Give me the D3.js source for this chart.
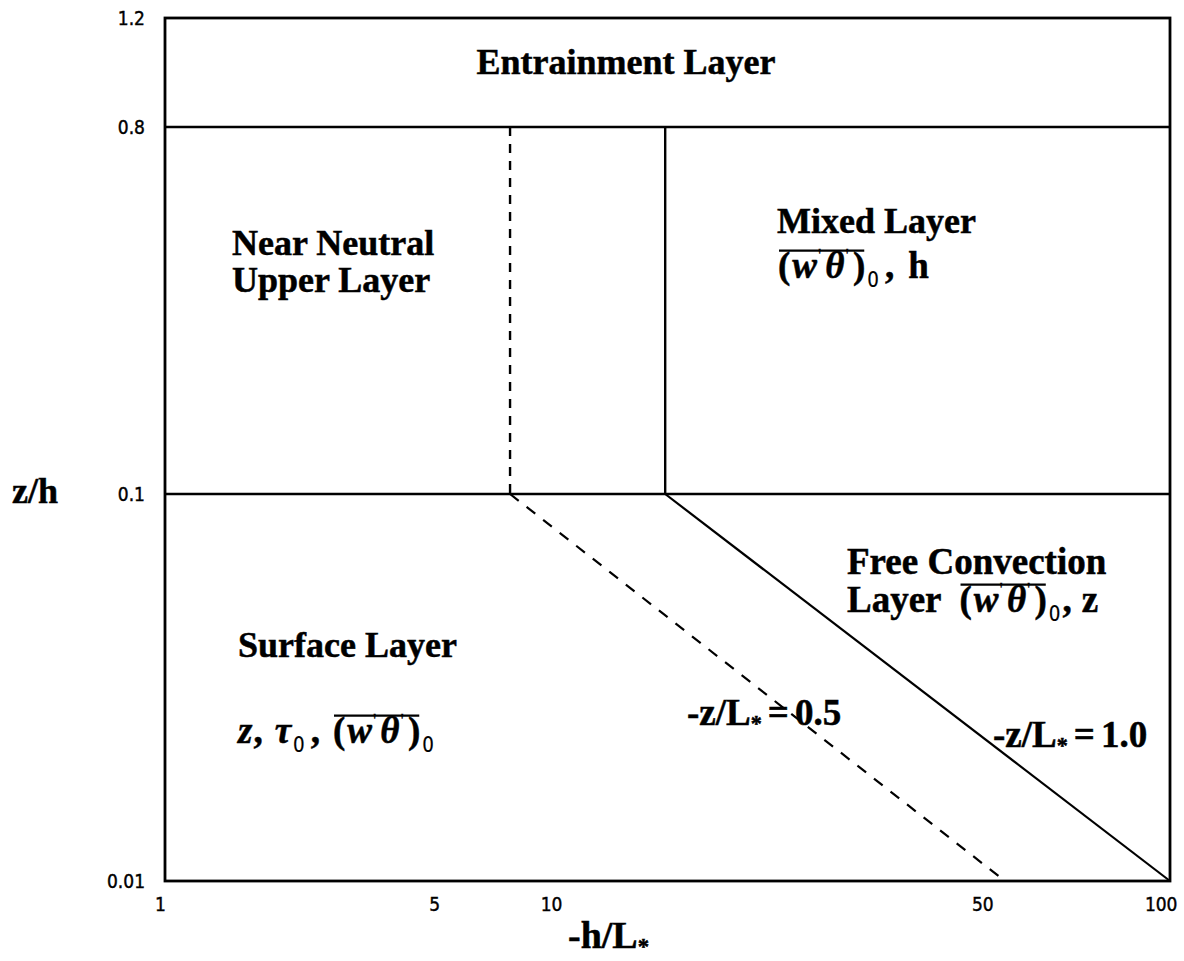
<!DOCTYPE html>
<html>
<head>
<meta charset="utf-8">
<script src="https://cdn.jsdelivr.net/npm/d3@7"></script>
<style>
  body { margin: 0; background: #fff; }
  .lbl { font-family: "Liberation Serif", "Times New Roman", serif; font-weight: bold; fill: #000;
         stroke: #000; stroke-width: 0.5px; }
  .tick text { font-family: "DejaVu Sans Condensed", "Liberation Sans Narrow", sans-serif; font-size: 19px;
               fill: #000; stroke: #000; stroke-width: 0.4px; }
</style>
</head>
<body>
<svg id="chart" width="1184" height="961"></svg>
<script>
// Regimes of the convective boundary layer on the (-h/L*, z/h) plane

// axis ticks
const xTicks = [1, 5, 10, 50, 100];
const xTickLabels = ["1", "5", "10", "50", "100"];
const yTicks = [0.01, 0.1, 0.8, 1.2];
const yTickLabels = ["0.01", "0.1", "0.8", "1.2"];

// horizontal layer boundaries (z/h)
const layerBounds = [0.1, 0.8];
// vertical boundaries between z/h = 0.1 and 0.8 (-h/L*)
const neutralEdge = 7.75;   // dashed
const mixedEdge = 15.2;     // solid
// -z/L* isolines, as [-h/L*, z/h] end points
const halfIsoline = [[7.75, 0.1], [54, 0.01]];
const unitIsoline = [[15.2, 0.1], [100, 0.01]];

const svg = d3.select("#chart");
const plotLeft = 165, plotRight = 1170, plotTop = 18, plotBottom = 881;

// piecewise log scales: each decade has its own span on the page
const x = d3.scaleLog().domain([1, 10, 100]).range([plotLeft, 553, plotRight]);
const y = d3.scaleLog().domain([0.01, 0.1, 0.8, 1.2]).range([plotBottom, 494, 127, plotTop]);

// tick labels
const xAxis = d3.axisBottom(x).tickValues(xTicks).tickSize(0).tickPadding(17)
  .tickFormat((d, i) => xTickLabels[i]);
svg.append("g").attr("transform", `translate(0,${plotBottom})`).call(xAxis)
  .call(g => g.select(".domain").remove())
  .call(g => g.selectAll(".tick text")
    .attr("dx", (d, i) => i === 0 ? -5 : (i === xTicks.length - 1 ? 7 : -2))
    .attr("text-anchor", (d, i) => i === xTicks.length - 1 ? "end" : "middle"));

const yAxis = d3.axisLeft(y).tickValues(yTicks).tickSize(0).tickPadding(20)
  .tickFormat((d, i) => yTickLabels[i]);
svg.append("g").attr("transform", `translate(${plotLeft},0)`).call(yAxis)
  .call(g => g.select(".domain").remove());

// frame
svg.append("rect")
  .attr("x", x(1)).attr("y", y(1.2))
  .attr("width", x(100) - x(1)).attr("height", y(0.01) - y(1.2))
  .attr("fill", "none").attr("stroke", "#000").attr("stroke-width", 2.8);

// horizontal boundaries
svg.selectAll("line.hb").data(layerBounds).join("line").attr("class", "hb")
  .attr("x1", x(1)).attr("x2", x(100))
  .attr("y1", d => y(d)).attr("y2", d => y(d))
  .attr("stroke", "#000").attr("stroke-width", 2.5);

// vertical boundaries
svg.append("line")
  .attr("x1", x(neutralEdge)).attr("x2", x(neutralEdge))
  .attr("y1", y(0.8)).attr("y2", y(0.1))
  .attr("stroke", "#000").attr("stroke-width", 2.4).attr("stroke-dasharray", "9,8");
svg.append("line")
  .attr("x1", x(mixedEdge)).attr("x2", x(mixedEdge))
  .attr("y1", y(0.8)).attr("y2", y(0.1))
  .attr("stroke", "#000").attr("stroke-width", 2.4);

// -z/L* isolines
const line = d3.line().x(d => x(d[0])).y(d => y(d[1]));
svg.append("path").attr("d", line(halfIsoline))
  .attr("fill", "none").attr("stroke", "#000").attr("stroke-width", 2.2)
  .attr("stroke-dasharray", "11,10");
svg.append("path").attr("d", line(unitIsoline))
  .attr("fill", "none").attr("stroke", "#000").attr("stroke-width", 2.2);

// plain labels
function label(tx, ty, text, size, anchor) {
  return svg.append("text").attr("class", "lbl")
    .attr("x", tx).attr("y", ty)
    .attr("font-size", size).attr("text-anchor", anchor || "start")
    .text(text);
}
label(626, 74, "Entrainment Layer", 36, "middle");
label(232, 255, "Near Neutral", 36);
label(232, 292, "Upper Layer", 36);
label(777, 233, "Mixed Layer", 36);
label(847, 574, "Free Convection", 37);
label(238, 657, "Surface Layer", 36);
label(12, 503, "z/h", 36);

// labels built from pieces: [text, style, dx]
//  n = bold serif, i = bold italic, p = prime, s = subscript digit, star = asterisk subscript
function rich(tx, ty, size, pieces) {
  const t = svg.append("text").attr("class", "lbl")
    .attr("x", tx).attr("y", ty).attr("font-size", size);
  let shift = 0;
  const spans = [];
  pieces.forEach(([txt, st, dx]) => {
    const s = t.append("tspan").text(txt);
    let target = 0;
    if (st === "i") s.attr("font-style", "italic");
    if (st === "p") {
      s.attr("font-size", size * 0.5).attr("font-weight", "normal").style("stroke-width", "0.3px");
      target = -size * 0.42;
    }
    if (st === "s") {
      s.attr("font-size", size * 0.55).attr("font-weight", "normal").style("stroke-width", "0.2px")
        .style("font-family", "'DejaVu Sans Condensed', 'Liberation Sans Narrow', sans-serif");
      target = size * 0.24;
    }
    if (st === "star") { s.attr("font-size", size * 0.6); target = size * 0.15; }
    s.attr("dy", target - shift);
    if (dx) s.attr("dx", dx);
    shift = target;
    spans.push({ node: s.node(), st, txt });
  });
  return { text: t, spans };
}

// draws the Reynolds-average bar over the bracketed covariance
function overbar(r, ty, size) {
  const open = r.spans.find(d => d.txt === "(").node;
  const close = r.spans.find(d => d.txt === ")").node;
  const x0 = open.getStartPositionOfChar(0).x + 1;
  const x1 = close.getEndPositionOfChar(0).x - 1;
  svg.append("line").attr("x1", x0).attr("x2", x1)
    .attr("y1", ty - size * 0.74).attr("y2", ty - size * 0.74)
    .attr("stroke", "#000").attr("stroke-width", 2.2);
}

function cov(lead) {
  return [["(", "n", lead || 0], ["w", "i", 2], ["'", "p", 1], ["θ", "i", 4], ["'", "p", 1], [")", "n", 4], ["0", "s", 2]];
}

const mixed = rich(778, 278, 37, [...cov(), [",", "n", 6], ["h", "n", 14]]);
overbar(mixed, 278, 37);

const freeConv = rich(847, 612, 37, [["Layer", "n"], ...cov(18), [",", "n", 2], ["z", "n", 10]]);
overbar(freeConv, 612, 37);

const surface = rich(238, 743, 37, [["z", "i"], [",", "n", 1], ["τ", "i", 12], ["0", "s", 2], [",", "n", 6], ...cov(13)]);
overbar(surface, 743, 37);

rich(687, 725, 37, [["-z/L", "n"], ["*", "star"], ["=", "n", 6], ["0.5", "n", 6]]);
rich(993, 747, 37, [["-z/L", "n"], ["*", "star"], ["=", "n", 6], ["1.0", "n", 6]]);
rich(568, 948, 38, [["-h/L", "n"], ["*", "star"]]);
</script>
</body>
</html>
